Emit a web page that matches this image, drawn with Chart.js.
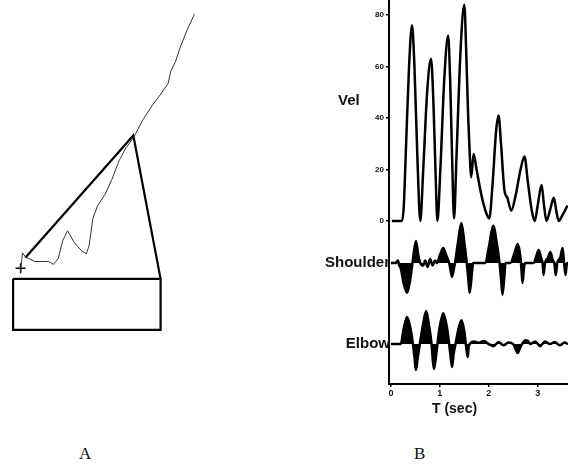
<!DOCTYPE html>
<html>
<head>
<meta charset="utf-8">
<script src="https://cdn.jsdelivr.net/npm/chart.js@4.4.0/dist/chart.umd.min.js"></script>
<style>
  body { margin: 0; background: #fff; }
  #wrap { position: relative; width: 568px; height: 472px; overflow: hidden; }
  canvas { position: absolute; }
  .lbl { position: absolute; font: 17px "Liberation Serif", "DejaVu Serif", serif; color: #111; }
</style>
</head>
<body>
<div id="wrap">
  <canvas id="armChart" width="215" height="345" style="left:0;top:0"></canvas>
  <canvas id="velChart" width="258" height="420" style="left:310px;top:0"></canvas>
  <div class="lbl" style="left:79px;top:444px">A</div>
  <div class="lbl" style="left:414px;top:444px">B</div>
</div>
<script>
// ---- Panel A: hand path, arm and table (arbitrary workspace units)
const handPathX = [15, 17, 20, 24, 30, 37, 45, 50, 55, 60, 65, 72, 80, 85, 88, 92, 97, 105, 112, 120, 127, 134, 137, 145, 155, 165, 172, 175, 180, 185, 192, 200];
const handPathY = [69, 89, 85, 83, 80, 80, 80, 77, 83, 102, 112, 100, 91, 88, 97, 125, 138, 150, 165, 185, 198, 207, 212, 227, 242, 255, 265, 278, 288, 303, 320, 337];
const armX = [20, 135, 164];
const armY = [84, 211, 62];
const tableX = [7, 164, 164, 7, 7];
const tableY = [62, 62, 9, 9, 62];
const startX = [15];
const startY = [73];

// ---- Panel B: tangential velocity and joint traces vs time (sec)
const velT = [0.02, 0.1, 0.22, 0.26, 0.31, 0.37, 0.43, 0.48, 0.54, 0.6, 0.66, 0.74, 0.82, 0.87, 0.91, 0.95, 1.01, 1.09, 1.17, 1.21, 1.25, 1.29, 1.34, 1.42, 1.5, 1.54, 1.58, 1.62, 1.64, 1.69, 1.75, 1.85, 1.95, 2.01, 2.08, 2.15, 2.2, 2.25, 2.32, 2.38, 2.46, 2.55, 2.65, 2.73, 2.8, 2.88, 2.94, 3.0, 3.08, 3.13, 3.18, 3.25, 3.33, 3.38, 3.43, 3.5, 3.61];
const velV = [0, 0, 0, 5, 30, 60, 76, 60, 25, 0, 20, 50, 63, 45, 20, 0, 20, 55, 72, 55, 25, 1, 25, 65, 84, 65, 40, 22, 17, 26, 20, 10, 3, 1, 15, 35, 41, 30, 12, 9, 4, 10, 20, 25, 15, 4, 0, 6, 14, 6, 0, 4, 9, 4, 0, 2, 6];

const shoulderT = [0, 0.1, 0.14, 0.17, 0.2, 0.26, 0.33, 0.39, 0.44, 0.46, 0.51, 0.56, 0.6, 0.66, 0.7, 0.75, 0.8, 0.85, 0.9, 0.94, 1.0, 1.07, 1.13, 1.19, 1.22, 1.25, 1.29, 1.31, 1.37, 1.44, 1.5, 1.55, 1.58, 1.61, 1.66, 1.68, 1.93, 2.0, 2.09, 2.17, 2.22, 2.25, 2.28, 2.32, 2.34, 2.44, 2.52, 2.59, 2.65, 2.67, 2.69, 2.72, 2.74, 2.92, 2.97, 3.02, 3.07, 3.1, 3.12, 3.15, 3.21, 3.26, 3.31, 3.34, 3.37, 3.4, 3.46, 3.51, 3.54, 3.57, 3.6, 3.62];
const shoulderV = [0, 0, 1, -1, -2, -8, -11.6, -7, 0, 3, 8.5, 3, 0, -1, 1, -1.5, 1.5, -1, 1, 0, 3, 5.8, 3, 0, -3, -5.4, -2, 0, 8, 15.5, 8, 0, -6, -11.6, -3, 0, 0, 6, 14.4, 7, 0, -6, -12.4, -5, 0, 0, 3.5, 7.4, 2, -3, -7.8, -2, 0, 0, 2.5, 5, 2, 0, -4.7, 0, 2, 4.3, 1, 0, -4.7, 0, 2, 5.8, 0, -4.7, 0, 0];

const elbowT = [0, 0.15, 0.2, 0.26, 0.33, 0.4, 0.45, 0.48, 0.51, 0.55, 0.59, 0.65, 0.72, 0.78, 0.83, 0.85, 0.88, 0.92, 0.95, 1.0, 1.07, 1.14, 1.19, 1.22, 1.25, 1.28, 1.32, 1.37, 1.44, 1.5, 1.53, 1.55, 1.57, 1.59, 1.61, 1.7, 1.8, 1.9, 2.0, 2.1, 2.2, 2.3, 2.4, 2.5, 2.55, 2.59, 2.64, 2.68, 2.75, 2.8, 2.85, 2.95, 3.05, 3.15, 3.25, 3.35, 3.45, 3.55, 3.62];
const elbowV = [0, 0, 0, 6, 10.5, 6, 0, -5, -10.1, -5, 0, 7, 12.8, 7, 0, -5, -9.7, -5, 0, 7, 12, 7, 0, -5, -8.9, -4, 0, 5, 9.3, 5, 0, -3, -5, -1, 0, 1, 0.5, 1.2, 0, -0.8, 0.8, -0.5, 0.6, 0, -2, -3.5, -1.5, 0, 1.5, 1.2, 0, 1, -0.8, 1, 0, 0.8, -0.5, 0.6, 0];

const velTicks = [0, 20, 40, 60, 80];
const timeTicks = [0, 1, 2, 3];
const shoulderBase = -16.3;
const elbowBase = -47.8;

const pts = (xs, ys, off = 0) => xs.map((x, i) => ({ x, y: ys[i] + off }));
const SANS = '"Liberation Sans", Arial, sans-serif';

new Chart(document.getElementById('armChart'), {
    type: 'scatter',
    data: {
        datasets: [
            { data: pts(handPathX, handPathY), showLine: true, borderColor: '#333', borderWidth: 1, pointRadius: 0 },
            { data: pts(armX, armY), showLine: true, borderColor: '#000', borderWidth: 2.2, pointRadius: 0 },
            { data: pts(tableX, tableY), showLine: true, borderColor: '#000', borderWidth: 2.2, pointRadius: 0 },
            { data: pts(startX, startY), pointStyle: 'cross', pointRadius: 5, borderColor: '#000', borderWidth: 1.5 },
        ],
    },
    options: {
        responsive: false, animation: false, devicePixelRatio: 1,
        layout: { padding: 0 },
        plugins: { legend: { display: false }, tooltip: { enabled: false } },
        scales: {
            x: { display: false, min: 0, max: 215 },
            y: { display: false, min: 0, max: 345 },
        },
    },
});

// trace names and x-axis title, placed from the scales
const traceLabels = {
    id: 'traceLabels',
    afterDraw(chart) {
        const { ctx, scales: { x, y } } = chart;
        const xr = chart.chartArea.left;
        ctx.save();
        ctx.fillStyle = '#111';
        ctx.font = 'bold 15px ' + SANS;
        ctx.textBaseline = 'middle';
        ctx.textAlign = 'left';
        ctx.fillText('Vel', xr - 51, y.getPixelForValue(46.5));
        ctx.textAlign = 'right';
        ctx.fillText('Shoulder', xr + 1, y.getPixelForValue(shoulderBase));
        ctx.fillText('Elbow', xr + 1, y.getPixelForValue(elbowBase));
        ctx.textAlign = 'center';
        ctx.font = 'bold 14px ' + SANS;
        ctx.fillText('T (sec)', x.getPixelForValue(1.3), chart.chartArea.bottom + 25);
        ctx.restore();
    },
};

new Chart(document.getElementById('velChart'), {
    type: 'scatter',
    data: {
        datasets: [
            { data: pts(velT, velV), showLine: true, borderColor: '#000', borderWidth: 2.5, pointRadius: 0, cubicInterpolationMode: 'monotone' },
            { data: pts(shoulderT, shoulderV, shoulderBase), showLine: true, borderColor: '#000', borderWidth: 2.5, pointRadius: 0,
              cubicInterpolationMode: 'monotone', fill: { value: shoulderBase }, backgroundColor: '#000' },
            { data: pts(elbowT, elbowV, elbowBase), showLine: true, borderColor: '#000', borderWidth: 2.5, pointRadius: 0,
              cubicInterpolationMode: 'monotone', fill: { value: elbowBase }, backgroundColor: '#000' },
        ],
    },
    options: {
        responsive: false, animation: false, devicePixelRatio: 1,
        layout: { padding: 0 },
        plugins: { legend: { display: false }, tooltip: { enabled: false } },
        scales: {
            x: {
                type: 'linear', min: -0.04, max: 3.62,
                afterBuildTicks: s => { s.ticks = timeTicks.map(v => ({ value: v })); },
                afterFit: s => { s.height = 36; s.paddingLeft = 0; s.paddingRight = 0; },
                grid: { display: true, drawOnChartArea: false, tickLength: 3, color: '#000', lineWidth: 1.5 },
                border: { display: true, color: '#000', width: 2 },
                ticks: { color: '#111', font: { size: 9, weight: 'bold', family: SANS }, padding: 1, maxRotation: 0 },
            },
            y: {
                min: -63.3, max: 85.8,
                afterBuildTicks: s => { s.ticks = velTicks.map(v => ({ value: v })); },
                afterFit: s => { s.width = 79; s.paddingTop = 0; s.paddingBottom = 0; },
                grid: { display: true, drawOnChartArea: false, tickLength: 3, color: '#000', lineWidth: 1.5 },
                border: { display: true, color: '#000', width: 2 },
                ticks: { color: '#111', font: { size: 8, weight: 'bold', family: SANS }, padding: 2 },
            },
        },
    },
    plugins: [traceLabels],
});
</script>
</body>
</html>
